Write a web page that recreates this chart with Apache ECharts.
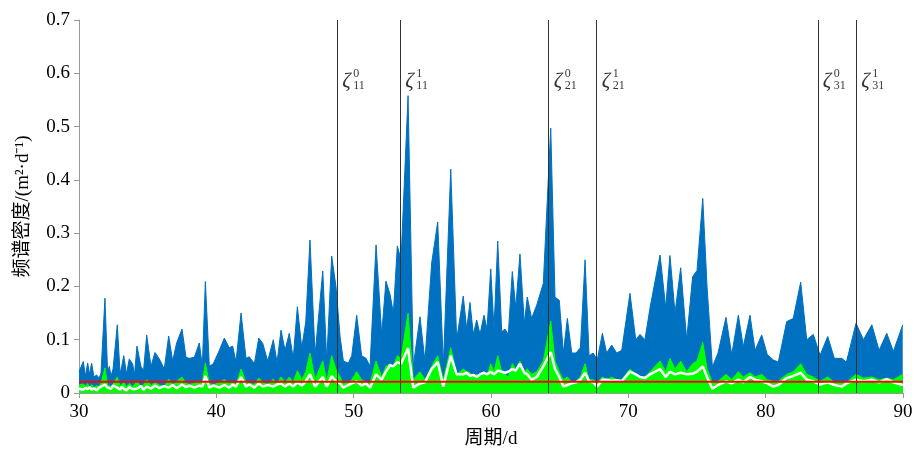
<!DOCTYPE html>
<html><head><meta charset="utf-8">
<script src="https://cdn.jsdelivr.net/npm/echarts@6/dist/echarts.min.js"></script>
<style>html,body{margin:0;padding:0;background:#fff}#c{width:914px;height:450px}</style>
</head><body><div id="c"></div>
<script>
const periods = [30.00,30.31,30.47,30.63,30.77,30.92,31.09,31.28,31.46,31.60,31.89,32.08,32.21,32.33,32.48,32.79,32.99,33.11,33.26,33.46,33.66,33.91,34.04,34.22,34.51,34.70,34.93,35.24,35.53,35.85,36.21,36.53,36.82,37.11,37.50,37.79,38.03,38.40,38.76,38.98,39.20,39.49,39.78,40.22,40.58,40.94,41.19,41.43,41.80,42.16,42.40,42.77,43.09,43.38,43.74,44.15,44.42,44.71,45.00,45.31,45.60,45.90,46.22,46.51,46.82,47.19,47.75,48.04,48.40,48.71,49.01,49.25,49.61,49.86,50.22,50.58,50.90,51.19,51.63,52.04,52.35,52.65,52.89,53.18,53.45,53.96,54.34,54.83,55.19,55.68,56.12,56.53,57.07,57.50,57.98,58.23,58.47,58.71,58.96,59.20,59.49,59.71,59.98,60.22,60.49,60.78,61.02,61.26,61.55,61.80,62.11,62.43,62.64,62.96,63.33,63.81,64.35,64.66,64.97,65.27,65.56,65.88,66.19,66.51,66.85,67.14,67.44,67.74,68.11,68.42,68.79,69.15,69.52,70.12,70.54,70.85,71.21,71.58,72.31,72.72,73.03,73.40,73.81,74.25,74.68,75.00,75.42,75.73,76.12,76.53,77.11,77.53,78.01,78.37,78.86,79.23,79.71,80.12,80.56,80.92,81.53,82.01,82.55,82.99,83.47,83.96,84.52,85.00,85.54,85.88,86.58,87.12,87.73,88.26,88.82,89.30,89.98];
const blueMax = [0.040,0.059,0.032,0.056,0.035,0.056,0.030,0.034,0.028,0.037,0.178,0.040,0.050,0.032,0.045,0.128,0.036,0.050,0.070,0.036,0.064,0.054,0.034,0.088,0.050,0.042,0.109,0.050,0.076,0.064,0.045,0.107,0.060,0.094,0.120,0.067,0.065,0.067,0.094,0.050,0.209,0.050,0.055,0.080,0.103,0.085,0.088,0.058,0.150,0.065,0.068,0.055,0.103,0.093,0.060,0.100,0.057,0.118,0.080,0.112,0.065,0.162,0.085,0.133,0.287,0.072,0.229,0.060,0.257,0.200,0.106,0.060,0.056,0.070,0.146,0.070,0.065,0.050,0.278,0.110,0.210,0.185,0.150,0.276,0.250,0.558,0.050,0.143,0.060,0.244,0.321,0.052,0.420,0.100,0.182,0.120,0.170,0.110,0.137,0.110,0.146,0.120,0.233,0.120,0.285,0.115,0.120,0.110,0.228,0.160,0.261,0.130,0.180,0.140,0.165,0.206,0.497,0.180,0.174,0.075,0.140,0.075,0.075,0.085,0.250,0.070,0.075,0.062,0.112,0.075,0.090,0.075,0.080,0.187,0.100,0.110,0.100,0.160,0.259,0.160,0.258,0.150,0.235,0.100,0.218,0.230,0.365,0.200,0.049,0.075,0.142,0.072,0.146,0.087,0.146,0.080,0.109,0.072,0.062,0.058,0.134,0.140,0.208,0.100,0.110,0.071,0.106,0.065,0.065,0.058,0.131,0.100,0.128,0.080,0.112,0.078,0.128];
const greenMax = [0.015,0.017,0.012,0.018,0.010,0.016,0.010,0.014,0.012,0.018,0.047,0.015,0.018,0.012,0.016,0.030,0.012,0.015,0.020,0.012,0.018,0.012,0.010,0.022,0.012,0.015,0.025,0.014,0.020,0.015,0.012,0.026,0.016,0.022,0.030,0.018,0.016,0.018,0.022,0.020,0.056,0.018,0.015,0.020,0.025,0.018,0.022,0.016,0.045,0.020,0.018,0.016,0.028,0.020,0.016,0.026,0.018,0.030,0.020,0.030,0.020,0.042,0.025,0.040,0.075,0.025,0.060,0.022,0.070,0.045,0.030,0.018,0.020,0.025,0.040,0.025,0.020,0.018,0.060,0.030,0.050,0.055,0.050,0.070,0.065,0.150,0.025,0.040,0.025,0.050,0.070,0.025,0.085,0.035,0.045,0.040,0.038,0.030,0.035,0.030,0.040,0.032,0.055,0.040,0.070,0.040,0.035,0.030,0.055,0.045,0.060,0.040,0.045,0.035,0.040,0.060,0.135,0.060,0.040,0.025,0.030,0.020,0.022,0.030,0.055,0.025,0.025,0.020,0.030,0.025,0.030,0.025,0.025,0.045,0.035,0.030,0.030,0.040,0.060,0.040,0.065,0.045,0.060,0.040,0.055,0.060,0.095,0.045,0.020,0.022,0.035,0.025,0.040,0.030,0.038,0.030,0.035,0.025,0.022,0.022,0.035,0.040,0.055,0.035,0.030,0.022,0.030,0.020,0.020,0.020,0.035,0.028,0.030,0.025,0.028,0.025,0.035];
const whiteMean = [0.008,0.006,0.010,0.007,0.011,0.006,0.009,0.005,0.010,0.008,0.016,0.010,0.012,0.008,0.014,0.010,0.006,0.012,0.008,0.005,0.011,0.007,0.010,0.008,0.013,0.006,0.012,0.008,0.014,0.009,0.013,0.010,0.015,0.009,0.016,0.011,0.014,0.010,0.014,0.012,0.032,0.010,0.014,0.010,0.015,0.010,0.016,0.012,0.030,0.012,0.016,0.010,0.018,0.012,0.015,0.012,0.016,0.018,0.012,0.018,0.012,0.020,0.014,0.022,0.035,0.012,0.030,0.012,0.032,0.022,0.018,0.010,0.015,0.018,0.022,0.014,0.018,0.010,0.035,0.025,0.040,0.052,0.050,0.058,0.055,0.084,0.010,0.018,0.020,0.045,0.058,0.012,0.070,0.035,0.035,0.038,0.032,0.034,0.030,0.035,0.038,0.035,0.040,0.035,0.042,0.040,0.038,0.040,0.045,0.042,0.055,0.038,0.035,0.025,0.030,0.050,0.077,0.045,0.030,0.012,0.015,0.018,0.020,0.025,0.038,0.022,0.020,0.012,0.025,0.025,0.023,0.024,0.022,0.040,0.035,0.030,0.028,0.035,0.045,0.030,0.040,0.035,0.038,0.035,0.036,0.040,0.050,0.030,0.008,0.015,0.022,0.018,0.025,0.020,0.030,0.025,0.022,0.018,0.012,0.015,0.028,0.032,0.038,0.025,0.022,0.016,0.020,0.015,0.012,0.018,0.025,0.022,0.025,0.020,0.026,0.020,0.015];
const redLevel = 0.021;
const modeLines = [48.8, 53.4, 64.2, 67.7, 83.8, 86.6];
const modeSup = ['0', '1', '0', '1', '0', '1'];
const modeSub = ['11', '11', '21', '21', '31', '31'];
const labelLevel = 0.585;

const zip = arr => periods.map((p, i) => [p, arr[i]]);
const serif = "'Liberation Serif','Noto Sans CJK SC',serif";
const labSeries = (text, dist, offY, size, italic) => ({
  type: 'scatter', symbolSize: 0, silent: true, z: 20,
  data: modeLines.map((x, i) => ({ value: [x, labelLevel], name: text(i) })),
  label: { show: true, position: 'right', distance: dist, offset: [0, offY],
    formatter: p => p.name, fontFamily: serif, fontSize: size,
    fontStyle: italic ? 'italic' : 'normal', color: '#000' }
});

const chart = echarts.init(document.getElementById('c'));
chart.setOption({
  animation: false,
  backgroundColor: '#fff',
  grid: { left: 79, right: 11, top: 20, bottom: 57, containLabel: false, outerBoundsMode: 'none' },
  xAxis: {
    type: 'value', min: 30, max: 90, interval: 10,
    name: '周期/d', nameLocation: 'middle', nameGap: 37,
    nameTextStyle: { fontFamily: serif, fontSize: 19, color: '#000' },
    axisLine: { show: true, lineStyle: { color: '#999', width: 1 } },
    axisTick: { show: true, length: 5, lineStyle: { color: '#999' } },
    axisLabel: { fontFamily: serif, fontSize: 19, color: '#000', margin: 10 },
    splitLine: { show: false }
  },
  yAxis: {
    type: 'value', min: 0, max: 0.7, interval: 0.1,
    name: '频谱密度/(m²·d⁻¹)', nameLocation: 'middle', nameGap: 46,
    nameTextStyle: { fontFamily: serif, fontSize: 19, color: '#000' },
    axisLine: { show: true, lineStyle: { color: '#999', width: 1 } },
    axisTick: { show: true, length: 5, lineStyle: { color: '#999' } },
    axisLabel: { fontFamily: serif, fontSize: 19, color: '#000', margin: 9,
      formatter: v => v === 0 ? '0' : v.toFixed(1) },
    splitLine: { show: false }
  },
  series: [
    { type: 'line', data: zip(blueMax), showSymbol: false, z: 2,
      lineStyle: { color: '#0070c0', width: 1 },
      areaStyle: { color: '#0070c0', opacity: 1 } },
    { type: 'line', data: zip(greenMax), showSymbol: false, z: 3,
      lineStyle: { color: '#00ff00', width: 1 },
      areaStyle: { color: '#00ff00', opacity: 1 } },
    { type: 'line', data: zip(whiteMean), showSymbol: false, z: 4,
      lineStyle: { color: '#ffffff', width: 2.5 } },
    { type: 'line', data: [[30, redLevel], [90, redLevel]], showSymbol: false, z: 5,
      lineStyle: { color: '#ff0000', width: 2 },
      markLine: { silent: true, symbol: 'none', label: { show: false },
        lineStyle: { color: '#333', width: 1, type: 'solid' },
        data: modeLines.map(x => ({ xAxis: x })) } },
    labSeries(i => 'ζ', 5, 0, 21, true),
    labSeries(i => modeSup[i], 16, -7, 12, false),
    labSeries(i => modeSub[i], 16, 5, 12, false)
  ]
});
</script></body></html>
